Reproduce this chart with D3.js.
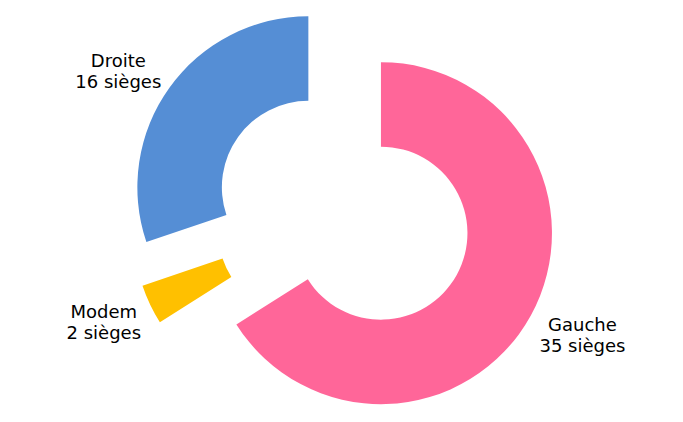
<!DOCTYPE html>
<html>
<head>
<meta charset="utf-8">
<script src="https://cdn.jsdelivr.net/npm/d3@7"></script>
<style>
  html, body { margin: 0; padding: 0; background: #ffffff; }
  svg { display: block; }
  text { font-family: "DejaVu Sans", Verdana, sans-serif; font-size: 18px; fill: #000; }
</style>
</head>
<body>
<svg id="chart" width="683" height="422"></svg>
<script>
const categories = ["Gauche", "Modem", "Droite"];
const seats = [35, 2, 16];
const colors = ["#FF6699", "#FFC000", "#558ED5"];
const unitLabel = "sièges";

const width = 683, height = 422;
const cx = 343.3, cy = 212.4;
const outerR = 171, innerR = 86.5, explode = 43;
const labelRx = 181, labelRy = 204;

const svg = d3.select("#chart");
const data = categories.map((c, i) => ({ name: c, value: seats[i], color: colors[i] }));

const pie = d3.pie().value(d => d.value).sort(null).startAngle(0).endAngle(2 * Math.PI);
const arcs = pie(data);
const arc = d3.arc().innerRadius(innerR).outerRadius(outerR);
const mid = d => (d.startAngle + d.endAngle) / 2;

const g = svg.append("g").attr("transform", `translate(${cx},${cy})`);

const slices = g.selectAll("g.slice")
  .data(arcs)
  .join("g")
  .attr("class", "slice")
  .attr("transform", d => `translate(${Math.sin(mid(d)) * explode},${-Math.cos(mid(d)) * explode})`);

slices.append("path")
  .attr("fill", d => d.data.color)
  .attr("d", arc);

const labels = slices.append("text")
  .attr("text-anchor", "middle");

labels.append("tspan").attr("x", 0).attr("y", -1).text(d => d.data.name);
labels.append("tspan").attr("x", 0).attr("y", 20).text(d => `${d.data.value} ${unitLabel}`);

labels.attr("transform", function(d) {
  const a = mid(d);
  const w = d3.max(d3.select(this).selectAll("tspan").nodes(), n => n.getComputedTextLength());
  const side = Math.sin(a) < 0 ? -1 : 1;
  const x = Math.sin(a) * labelRx + side * w / 2;
  const y = -Math.cos(a) * labelRy;
  return `translate(${x},${y})`;
});
</script>
</body>
</html>
